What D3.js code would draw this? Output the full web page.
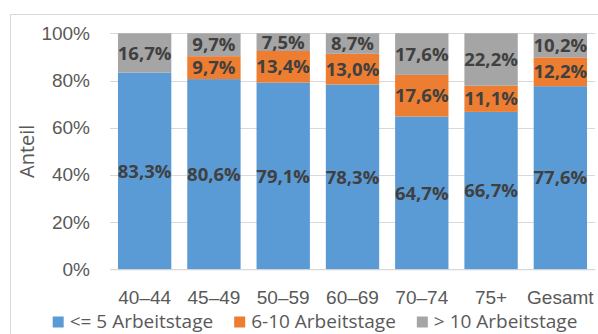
<!DOCTYPE html>
<html>
<head>
<meta charset="utf-8">
<script src="https://cdn.jsdelivr.net/npm/d3@7"></script>
<style>
  html, body { margin: 0; padding: 0; background: #ffffff; }
  svg { display: block; font-family: "Open Sans", "Noto Sans", sans-serif; }
</style>
</head>
<body>
<svg id="chart" width="598" height="334"></svg>
<script>
const categories = ["40–44", "45–49", "50–59", "60–69", "70–74", "75+", "Gesamt"];
const seriesNames = ["<= 5 Arbeitstage", "6-10 Arbeitstage", "> 10 Arbeitstage"];
const upTo5 = [83.3, 80.6, 79.1, 78.3, 64.7, 66.7, 77.6];
const from6to10 = [0, 9.7, 13.4, 13.0, 17.6, 11.1, 12.2];
const over10 = [16.7, 9.7, 7.5, 8.7, 17.6, 22.2, 10.2];
const yTicks = [0, 0.2, 0.4, 0.6, 0.8, 1.0];
const yTitle = "Anteil";
const seriesColors = ["#5B9BD5", "#ED7D31", "#A5A5A5"];

const svg = d3.select("#chart");
const W = 598, H = 334;
const m = { left: 110, right: 3, top: 33.3, bottom: 64.7 };
const plotW = W - m.left - m.right, plotH = H - m.top - m.bottom;

const de = d3.formatLocale({ decimal: ",", thousands: ".", grouping: [3], currency: ["", " €"] });
const fmtVal = de.format(".1f");

const rows = categories.map((c, i) => ({ cat: c, s0: upTo5[i], s1: from6to10[i], s2: over10[i] }));
const keys = ["s0", "s1", "s2"];
const stacked = d3.stack().keys(keys).offset(d3.stackOffsetExpand)(rows);

const x = d3.scaleBand().domain(categories).range([m.left, m.left + plotW]).paddingInner(0.23).paddingOuter(0.115);
const y = d3.scaleLinear().domain([0, 1]).range([m.top + plotH, m.top]);

// chart frame
svg.append("rect").attr("x", 10.5).attr("y", 14.5).attr("width", 700).attr("height", 400)
  .attr("fill", "none").attr("stroke", "#d9d9d9").attr("stroke-width", 1);

// gridlines
svg.append("g").selectAll("line").data(yTicks).join("line")
  .attr("x1", m.left).attr("x2", m.left + plotW)
  .attr("y1", d => Math.round(y(d)) + 0.5).attr("y2", d => Math.round(y(d)) + 0.5)
  .attr("stroke", "#d9d9d9").attr("stroke-width", 1);

// bars
const layers = svg.append("g").selectAll("g").data(stacked).join("g")
  .attr("fill", (d, i) => seriesColors[i]);
layers.selectAll("rect").data(d => d).join("rect")
  .attr("x", d => x(d.data.cat))
  .attr("width", x.bandwidth())
  .attr("y", d => y(d[1]))
  .attr("height", d => y(d[0]) - y(d[1]));

// data labels
const rawSeries = [upTo5, from6to10, over10];
stacked.forEach((layer, li) => {
  svg.append("g").selectAll("text").data(layer.filter((d, i) => rawSeries[li][i] > 0)).join("text")
    .attr("x", d => x(d.data.cat) + x.bandwidth() / 2)
    .attr("y", d => (y(d[0]) + y(d[1])) / 2)
    .attr("dy", "0.36em")
    .attr("text-anchor", "middle")
    .attr("font-weight", "bold")
    .attr("font-size", "18.5px")
    .attr("fill", "#404040")
    .text(d => fmtVal(d.data["s" + li]) + "%");
});

// x axis
const xAxis = svg.append("g").attr("transform", `translate(0,${m.top + plotH})`)
  .call(d3.axisBottom(x).tickSize(0).tickPadding(21));
xAxis.select(".domain").attr("stroke", "#d9d9d9");
xAxis.selectAll("text").attr("font-size", "19px").attr("fill", "#595959").attr("font-family", null);

// y axis
const yAxis = svg.append("g").attr("transform", `translate(${m.left},0)`)
  .call(d3.axisLeft(y).tickValues(yTicks).tickFormat(d3.format(".0%")).tickSize(0).tickPadding(20));
yAxis.select(".domain").remove();
yAxis.selectAll("text").attr("font-size", "19px").attr("fill", "#595959").attr("font-family", null);

// y title
svg.append("text")
  .attr("transform", `translate(27,${m.top + plotH / 2}) rotate(-90)`)
  .attr("text-anchor", "middle").attr("dy", "0.35em")
  .attr("font-size", "20px").attr("fill", "#595959")
  .text(yTitle);

// legend
const legend = svg.append("g");
let cx = 0;
seriesNames.forEach((name, i) => {
  const g = legend.append("g").attr("transform", `translate(${cx},0)`);
  g.append("rect").attr("x", 0).attr("y", 316.5).attr("width", 11).attr("height", 11).attr("fill", seriesColors[i]);
  const t = g.append("text").attr("x", 17).attr("y", 327.5)
    .attr("font-size", "19px").attr("fill", "#595959").text(name);
  cx += 17 + t.node().getComputedTextLength() + 21;
});
const legendW = cx - 21;
legend.attr("transform", `translate(${315 - legendW / 2},0)`);
</script>
</body>
</html>
